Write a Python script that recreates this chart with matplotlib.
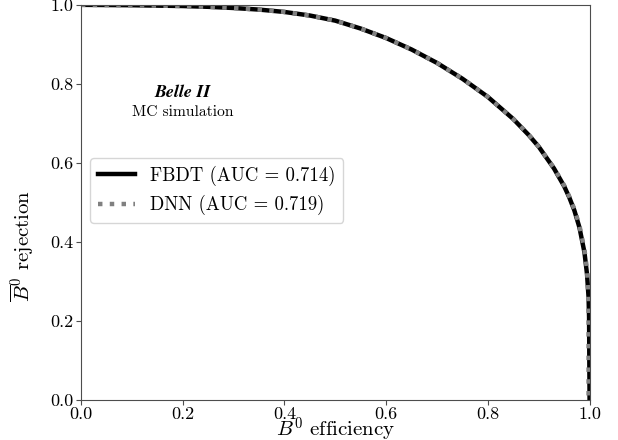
import matplotlib
matplotlib.use("Agg")
import matplotlib.pyplot as plt

plt.rcParams["font.family"] = "serif"
plt.rcParams["font.serif"] = ["cmr10"]
plt.rcParams["mathtext.fontset"] = "cm"
plt.rcParams["axes.formatter.use_mathtext"] = True

# ROC curves: B0 efficiency vs anti-B0 rejection
fbdt_eff = [0.0, 0.1, 0.2, 0.25, 0.3, 0.35, 0.4, 0.45, 0.5, 0.55, 0.6, 0.65, 0.7,
            0.75, 0.8, 0.85, 0.88, 0.9, 0.93, 0.95, 0.96, 0.97, 0.98, 0.99, 0.995,
            0.998, 0.999, 1.0]
fbdt_rej = [1.0, 0.999, 0.997, 0.995, 0.992, 0.988, 0.982, 0.973, 0.960, 0.940,
            0.916, 0.887, 0.853, 0.813, 0.767, 0.711, 0.671, 0.641, 0.586, 0.541,
            0.513, 0.480, 0.437, 0.373, 0.318, 0.26, 0.21, 0.0]

dnn_eff = [0.0, 0.1, 0.2, 0.25, 0.3, 0.35, 0.4, 0.45, 0.5, 0.55, 0.6, 0.65, 0.7,
           0.75, 0.8, 0.85, 0.88, 0.9, 0.93, 0.95, 0.96, 0.97, 0.98, 0.99, 0.995,
           0.997, 0.998, 0.998]
dnn_rej = [1.0, 0.999, 0.997, 0.995, 0.992, 0.988, 0.982, 0.973, 0.960, 0.940,
           0.916, 0.887, 0.853, 0.813, 0.767, 0.711, 0.672, 0.641, 0.587, 0.543,
           0.515, 0.483, 0.442, 0.380, 0.330, 0.28, 0.22, 0.0]

labels = ["FBDT (AUC = 0.714)", "DNN (AUC = 0.719)"]
ticks = [0.0, 0.2, 0.4, 0.6, 0.8, 1.0]

fig = plt.figure(figsize=(6.18, 4.4), dpi=100)
ax = fig.add_axes([0.131, 0.091, 0.823, 0.898])

ax.plot(fbdt_eff, fbdt_rej, color="black", lw=3.2, label=labels[0])
ax.plot(dnn_eff, dnn_rej, color="grey", lw=3.2, ls=":", label=labels[1])

ax.set_xlim(0, 1)
ax.set_ylim(0, 1)
ax.set_xticks(ticks)
ax.set_yticks(ticks)
ax.set_xticklabels(["%.1f" % t for t in ticks])
ax.set_yticklabels(["%.1f" % t for t in ticks])
ax.tick_params(labelsize=13, direction="out", length=3.5, color="0.3")
ax.tick_params(axis="x", pad=1)
ax.tick_params(axis="y", pad=2)
for sp in ax.spines.values():
    sp.set_color("0.3")

ax.set_xlabel(r"$B^0$ efficiency", fontsize=15, labelpad=-4)
ax.set_ylabel(r"$\overline{B}^0$ rejection", fontsize=15)
ax.yaxis.set_label_coords(-0.088, 0.39)

ax.text(0.2, 0.777, "Belle II", transform=ax.transAxes, ha="center", va="center",
        fontsize=13, family="STIXGeneral", weight="bold", style="italic")
ax.text(0.2, 0.729, "MC simulation", transform=ax.transAxes, ha="center", va="center",
        fontsize=11.2)

ax.legend(loc="center left", bbox_to_anchor=(0.0, 0.53), fontsize=13.5)

fig.savefig("out.png", dpi=100)
